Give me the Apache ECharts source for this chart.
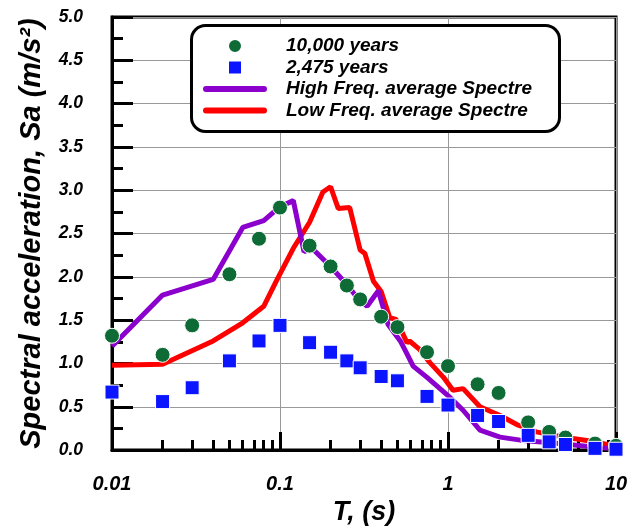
<!DOCTYPE html>
<html><head><meta charset="utf-8">
<script src="https://cdn.jsdelivr.net/npm/echarts@6/dist/echarts.min.js"></script>
<style>html,body{margin:0;padding:0;background:#fff}#c{width:644px;height:531px}</style>
</head><body><div id="c"></div>
<script>
// ---- data ----
const seriesNames = ['10,000 years', '2,475 years', 'High Freq. average Spectre', 'Low Freq. average Spectre'];
const periods = [0.01, 0.02, 0.03, 0.05, 0.075, 0.1, 0.15, 0.2, 0.25, 0.3, 0.4, 0.5, 0.75, 1, 1.5, 2, 3, 4, 5, 7.5, 10];
const sa10000 = [1.32, 1.10, 1.44, 2.03, 2.44, 2.80, 2.36, 2.12, 1.90, 1.74, 1.54, 1.42, 1.13, 0.97, 0.76, 0.66, 0.32, 0.21, 0.145, 0.075, 0.05];
const sa2475 = [0.67, 0.56, 0.72, 1.03, 1.26, 1.44, 1.24, 1.13, 1.03, 0.95, 0.85, 0.80, 0.62, 0.52, 0.40, 0.33, 0.17, 0.095, 0.065, 0.02, 0.01];
const highFreqT = [0.01, 0.02, 0.04, 0.06, 0.08, 0.1, 0.12, 0.139, 0.155, 0.2, 0.25, 0.28, 0.33, 0.385, 0.44, 0.52, 0.57, 0.62, 0.75, 1.0, 1.23, 1.55, 2.04, 2.7, 4.4, 9.0];
const highFreqSa = [1.20, 1.79, 1.97, 2.57, 2.65, 2.81, 2.88, 2.29, 2.33, 2.12, 1.91, 1.79, 1.66, 1.84, 1.45, 1.26, 1.11, 0.97, 0.84, 0.63, 0.46, 0.23, 0.15, 0.115, 0.08, 0.02];
const lowFreqT = [0.01, 0.02, 0.04, 0.06, 0.08, 0.095, 0.12, 0.15, 0.18, 0.2, 0.222, 0.26, 0.30, 0.32, 0.36, 0.40, 0.45, 0.49, 0.57, 0.59, 0.68, 0.78, 0.94, 1.07, 1.23, 1.55, 2.04, 2.6, 3.35, 4.9, 6.7, 9.2];
const lowFreqSa = [0.98, 0.99, 1.26, 1.47, 1.66, 1.95, 2.33, 2.63, 2.98, 3.04, 2.79, 2.80, 2.31, 2.27, 1.95, 1.83, 1.53, 1.51, 1.24, 1.26, 1.16, 1.01, 0.84, 0.69, 0.71, 0.50, 0.40, 0.29, 0.21, 0.15, 0.11, 0.06];
const xMinorTicks = [0.02,0.03,0.04,0.05,0.06,0.07,0.08,0.09,0.2,0.3,0.4,0.5,0.6,0.7,0.8,0.9,2,3,4,5,6,7,8,9];
const yTitle = 'Spectral acceleration, Sa (m/s\u00B2)';
const xTitle = 'T, (s)';

// ---- chart ----
const FONT = 'Arial, "Liberation Sans", sans-serif';
const zip = (a, b) => a.map((v, i) => [v, b[i]]);
const chart = echarts.init(document.getElementById('c'), null, {renderer: 'canvas'});
const bi = {fontFamily: FONT, fontWeight: 'bold', fontStyle: 'italic', color: '#000'};
chart.setOption({
  animation: false,
  backgroundColor: '#fff',
  grid: {left: 112, right: 28, top: 17, bottom: 78, show: true, borderColor: '#000', borderWidth: 3, backgroundColor: 'transparent'},
  graphic: [{type: 'rect', z: 5, shape: {x: 191.5, y: 25.5, width: 368, height: 106, r: 14}, style: {fill: '#fff', stroke: '#000', lineWidth: 3}}],
  legend: {
    orient: 'vertical', left: 203, top: 36.5, padding: 0, z: 10,
    itemWidth: 64, itemHeight: 14, itemGap: 2.5,
    textStyle: Object.assign({}, bi, {fontSize: 19, lineHeight: 19, padding: [0, 0, 0, 14]}),
    data: [
      {name: seriesNames[0], icon: 'circle'},
      {name: seriesNames[1], icon: 'path://M0,0H1V1H0Z'},
      {name: seriesNames[2], icon: 'path://M3,0H61A3,3 0 0 1 61,6H3A3,3 0 0 1 3,0Z'},
      {name: seriesNames[3], icon: 'path://M3,0H61A3,3 0 0 1 61,6H3A3,3 0 0 1 3,0Z'}
    ]
  },
  xAxis: [{
    type: 'log', logBase: 10, min: 0.01, max: 10,
    name: xTitle, nameLocation: 'middle', nameGap: 46,
    nameTextStyle: Object.assign({}, bi, {fontSize: 27}),
    axisLine: {lineStyle: {color: '#000', width: 3}},
    axisTick: {inside: true, length: 18, lineStyle: {color: '#000', width: 3}},
    axisLabel: Object.assign({}, bi, {fontSize: 20, margin: 24, formatter: v => String(+(+v).toPrecision(3))}),
    splitLine: {show: true, lineStyle: {color: '#999', width: 1}}
  }, {
    type: 'log', logBase: 10, min: 0.01, max: 10, position: 'bottom',
    axisLine: {show: false},
    axisTick: {show: true, inside: true, length: 10, customValues: xMinorTicks, lineStyle: {color: '#000', width: 3}},
    axisLabel: {show: false},
    splitLine: {show: false}
  }],
  yAxis: {
    type: 'value', min: 0, max: 5, interval: 0.5,
    name: yTitle, nameLocation: 'middle', nameGap: 66,
    nameTextStyle: Object.assign({}, bi, {fontSize: 29}),
    axisLine: {show: true, lineStyle: {color: '#000', width: 3}},
    axisTick: {inside: true, length: 21, lineStyle: {color: '#000', width: 3}},
    minorTick: {show: true, splitNumber: 2, length: 11, lineStyle: {color: '#000', width: 3}},
    axisLabel: Object.assign({}, bi, {fontSize: 17.5, margin: 29, formatter: v => v.toFixed(1)}),
    splitLine: {show: true, lineStyle: {color: '#999', width: 1}},
    minorSplitLine: {show: false}
  },
  series: [
    {name: seriesNames[3], type: 'line', data: zip(lowFreqT, lowFreqSa), showSymbol: false, symbol: 'none',
     lineStyle: {color: '#ff0000', width: 5}, itemStyle: {color: '#ff0000'}, z: 2},
    {name: seriesNames[2], type: 'line', data: zip(highFreqT, highFreqSa), showSymbol: false, symbol: 'none',
     lineStyle: {color: '#8B00CC', width: 5}, itemStyle: {color: '#8B00CC'}, z: 3},
    {name: seriesNames[0], type: 'scatter', data: zip(periods, sa10000), symbol: 'circle', symbolSize: 15,
     itemStyle: {color: '#0E6B36', borderColor: '#fff', borderWidth: 1, opacity: 1}, z: 4},
    {name: seriesNames[1], type: 'scatter', data: zip(periods, sa2475), symbol: 'rect', symbolSize: 14,
     itemStyle: {color: '#0A14FF', borderColor: '#fff', borderWidth: 1, opacity: 1}, z: 5}
  ]
});
</script></body></html>
